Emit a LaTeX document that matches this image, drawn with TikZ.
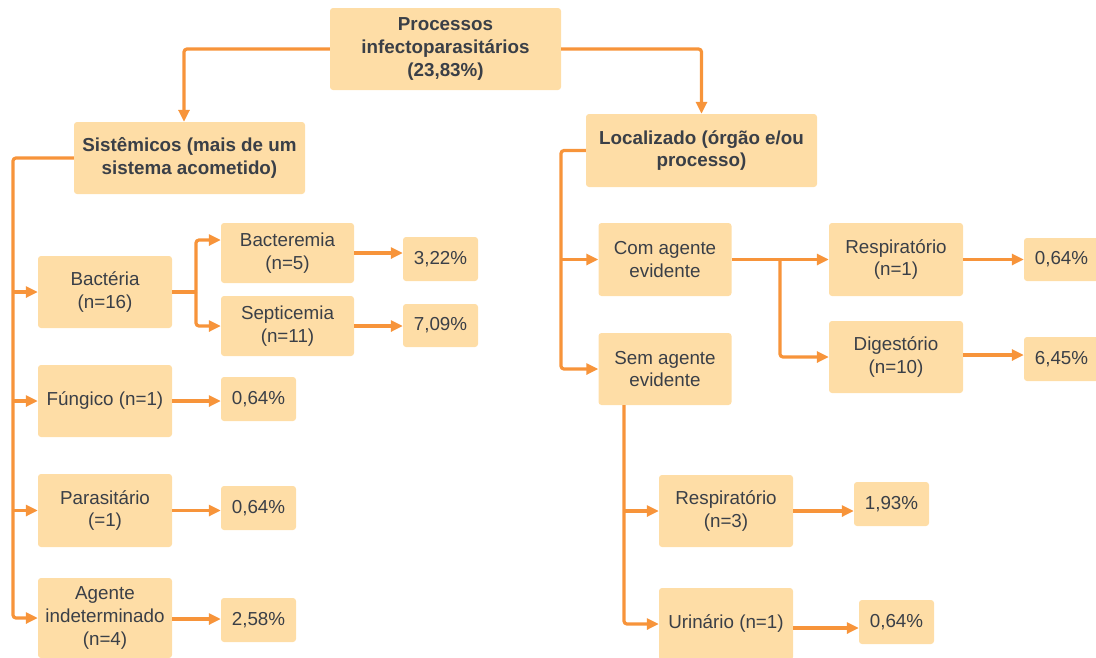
\documentclass[tikz,border=0pt]{standalone}
\usepackage{fontspec}
\setmainfont{Liberation Sans}
\usetikzlibrary{arrows.meta}
\definecolor{boxfill}{HTML}{FEDDA6}
\definecolor{lineor}{HTML}{F7943A}
\definecolor{txt}{HTML}{3A3F47}
\begin{document}
\begin{tikzpicture}[x=1pt,y=-1pt,
  box/.style={rectangle, rounded corners=3pt, fill=boxfill, draw=none, text=txt, align=center, inner sep=2pt,
    font=\fontsize{18.8}{22.8}\selectfont, minimum width=#1},
  box/.default=134pt,
  bbox/.style={box=231pt, font=\fontsize{18.8}{22.8}\selectfont\bfseries},
  ln/.style={draw=lineor, line width=3.2pt, rounded corners=3pt},
  arr/.style={ln, -{Triangle[length=12pt,width=11pt]}}]
\useasboundingbox (0,0) rectangle (1096,657);

% nodes
\node[bbox, minimum height=82pt] (top) at (445.5,49) {Processos\\infectoparasitários\\(23,83\%)};
\node[bbox, minimum height=72pt] (sist) at (189.5,158) {Sistêmicos (mais de um\\sistema acometido)};
\node[bbox, minimum height=73pt] (loc) at (701.5,150.5) {Localizado (órgão e/ou\\processo)};

\node[box, minimum height=72pt] (bact) at (105,292) {Bactéria\\(n=16)};
\node[box=133pt, minimum height=60pt] (bactm) at (287.5,253) {Bacteremia\\(n=5)};
\node[box=133pt, minimum height=60pt] (sept) at (287.5,326) {Septicemia\\(n=11)};
\node[box=75pt, minimum height=44pt] (p322) at (440.5,259) {3,22\%};
\node[box=75pt, minimum height=43pt] (p709) at (440.5,325.5) {7,09\%};
\node[box, minimum height=72pt] (fung) at (105,401) {Fúngico (n=1)};
\node[box=75pt, minimum height=44pt] (p064a) at (258.5,399) {0,64\%};
\node[box, minimum height=73pt] (par) at (105,510.5) {Parasitário\\(=1)};
\node[box=75pt, minimum height=44pt] (p064b) at (258.5,508) {0,64\%};
\node[box, minimum height=80pt] (agi) at (105,618) {Agente\\indeterminado\\(n=4)};
\node[box=75pt, minimum height=44pt] (p258) at (258.5,620) {2,58\%};

\node[box=133pt, minimum height=73pt] (com) at (665,259.5) {Com agente\\evidente};
\node[box=133pt, minimum height=72pt] (sem) at (665,369) {Sem agente\\evidente};
\node[box, minimum height=73pt] (resp1) at (896,259.5) {Respiratório\\(n=1)};
\node[box, minimum height=72pt] (dig) at (896,357) {Digestório\\(n=10)};
\node[box=75pt, minimum height=43pt] (p064c) at (1061.5,259.5) {0,64\%};
\node[box=75pt, minimum height=44pt] (p645) at (1061.5,359) {6,45\%};
\node[box, minimum height=72pt] (resp3) at (726,511) {Respiratório\\(n=3)};
\node[box=75pt, minimum height=44pt] (p193) at (891.5,504) {1,93\%};
\node[box, minimum height=72pt] (uri) at (726,624) {Urinário (n=1)};
\node[box=75pt, minimum height=44pt] (p064d) at (896.5,622) {0,64\%};

% trunk coordinates
\coordinate (trL) at (13,158);
\coordinate (bs) at (196,292);
\coordinate (trR) at (561,150.5);
\coordinate (cs) at (780,259.5);
\coordinate (ss) at (624,405);

% top connectors
\draw[arr] (top.west) -| ([xshift=-5.5pt]sist.north);
\draw[arr] (top.east) -| (loc.north);

% left side
\draw[arr] (sist.west) -- (trL) |- (agi.west);
\draw[arr] (trL |- bact.west) -- (bact.west);
\draw[arr] (trL |- fung.west) -- (fung.west);
\draw[arr] (trL |- par.west) -- (par.west);

\draw[ln] (bact.east) -- (bs);
\draw[arr] (bs) |- ([yshift=13pt]bactm.west);
\draw[arr] (bs) |- (sept.west);
\draw[arr] (bactm.east) -- (bactm.east -| p322.west);
\draw[arr] (sept.east) -- (sept.east -| p709.west);
\draw[arr] (fung.east) -- (fung.east -| p064a.west);
\draw[arr] (par.east) -- (par.east -| p064b.west);
\draw[arr] ([yshift=-1pt]agi.east) -- ([yshift=-1pt]agi.east -| p258.west);

% right side
\draw[arr] (loc.west) -- (trR) |- (sem.west);
\draw[arr] (trR |- com.west) -- (com.west);
\draw[arr] (com.east) -- (resp1.west);
\draw[arr] (cs) |- (dig.west);
\draw[arr] (resp1.east) -- (p064c.west);
\draw[arr] ([yshift=2pt]dig.east) -- ([yshift=2pt]dig.east -| p645.west);
\draw[arr] (ss) |- (uri.west);
\draw[arr] (ss |- resp3.west) -- (resp3.west);
\draw[arr] (resp3.east) -- (resp3.east -| p193.west);
\draw[arr] ([yshift=-4pt]uri.east) -- ([yshift=-4pt]uri.east -| p064d.west);
\end{tikzpicture}
\end{document}
